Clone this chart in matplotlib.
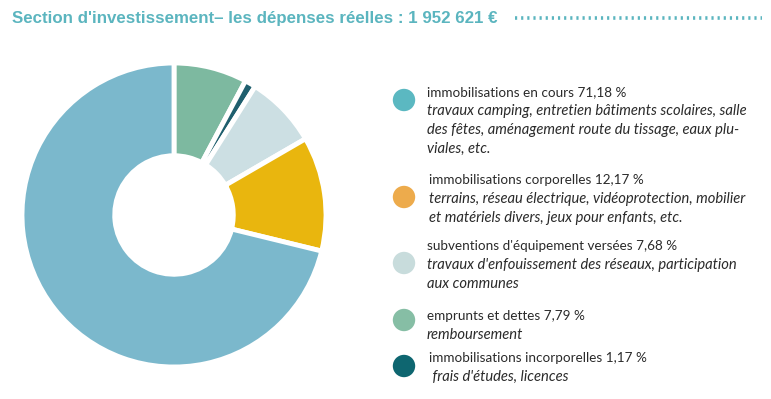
from matplotlib import pyplot as plt
import numpy as np

W, H = 771, 399

# data
labels = ['emprunts et dettes', 'immobilisations incorporelles',
          "subventions d'équipement versées", 'immobilisations corporelles',
          'immobilisations en cours']
values = [7.79, 1.17, 7.68, 12.17, 71.18]
pie_colors = ['#7DB9A0', '#1F5F6E', '#CCDFE3', '#E9B60E', '#7BB8CC']

legend_titles = ['immobilisations en cours 71,18 %',
                 'immobilisations corporelles 12,17 %',
                 "subventions d'équipement versées 7,68 %",
                 'emprunts et dettes 7,79 %',
                 'immobilisations incorporelles 1,17 %']
legend_notes = [['travaux camping, entretien bâtiments scolaires, salle',
                 'des fêtes, aménagement route du tissage, eaux plu-',
                 'viales, etc.'],
                ['terrains, réseau électrique, vidéoprotection, mobilier',
                 'et matériels divers, jeux pour enfants, etc.'],
                ["travaux d'enfouissement des réseaux, participation",
                 'aux communes'],
                ['remboursement'],
                [" frais d'études, licences"]]
legend_colors = ['#5BB8C1', '#EDAB4C', '#C8DCDC', '#86BEA5', '#0E6670']
legend_top = [92, 180, 246, 316, 358]
legend_dot = [100, 197, 263, 320, 366]
legend_x = [427, 429, 427, 427, 429]

title = "Section d'investissement\u2013 les dépenses réelles : 1 952 621 \u20ac"

fig = plt.figure(figsize=(W / 100, H / 100), dpi=100)

def fx(px):
    return px / W

def fy(py):
    return 1 - py / H

# donut
ax = fig.add_axes([fx(22), fy(368), fx(304), 306 / H])
ax.pie(values, colors=pie_colors, startangle=90, counterclock=False,
       wedgeprops=dict(width=0.61, edgecolor='white', linewidth=3.5))
ax.set_xlim(-1, 1)
ax.set_ylim(-1, 1)

# title + dotted rule
fig.text(fx(12), fy(18), title, fontsize=12.2, fontweight='bold',
         color='#5BB5BF', family='Liberation Sans',
         va='center', ha='left')
lax = fig.add_axes([0, 0, 1, 1], facecolor='none')
lax.set_xlim(0, W)
lax.set_ylim(H, 0)
lax.axis('off')
lax.plot([515, 762], [18, 18], color='#5BB5BF', linestyle=(0, (0.6, 1.1)),
         linewidth=2.6)

# legend
for i in range(len(legend_titles)):
    lax.scatter([404], [legend_dot[i]], s=260, color=legend_colors[i],
                edgecolor='none')
    lax.text(legend_x[i], legend_top[i], legend_titles[i], fontsize=9.7,
             color='#2a2a2a', family='Lato', va='center', ha='left')
    for j, note in enumerate(legend_notes[i]):
        lax.text(legend_x[i], legend_top[i] + 19 * (j + 1), note,
                 fontsize=10.6, style='italic', color='#2a2a2a',
                 family='Lato', va='center', ha='left')

plt.savefig('out.png', dpi=100)
plt.close()
